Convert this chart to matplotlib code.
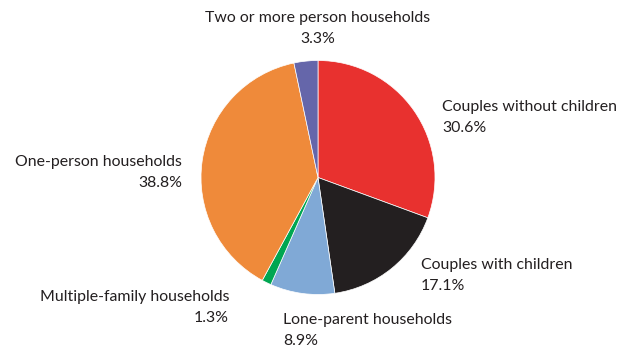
import matplotlib.pyplot as plt

categories = [
    "Couples without children",
    "Couples with children",
    "Lone-parent households",
    "Multiple-family households",
    "One-person households",
    "Two or more person households",
]
shares = [30.6, 17.1, 8.9, 1.3, 38.8, 3.3]
colors = ["#E8312F", "#231F20", "#80A9D6", "#00A651", "#EF8A3A", "#6566AA"]

W, H = 629, 347
fig = plt.figure(figsize=(W / 100, H / 100), dpi=100)
ax = fig.add_axes([0, 0, 1, 1])

cx, cy, r = 318, H - 177.5, 117
ax.pie(
    shares,
    colors=colors,
    startangle=90,
    counterclock=False,
    center=(cx, cy),
    radius=r,
    frame=True,
    wedgeprops=dict(edgecolor="white", linewidth=0.5),
)
ax.set_xlim(0, W)
ax.set_ylim(0, H)
ax.set_aspect("equal")
ax.axis("off")

# label anchors in pixel coordinates (x, y from top, alignment)
label_pos = [
    (442, 107, "left"),
    (421, 265, "left"),
    (283, 320, "left"),
    (229, 297, "right"),
    (182, 162, "right"),
    (318, 18, "center"),
]
font = dict(family="Lato", fontsize=11.4, color="#231F20")
for name, val, (x, y, ha) in zip(categories, shares, label_pos):
    ax.text(x, H - y, name, ha=ha, va="center", **font)
    ax.text(x, H - y - 21, f"{val:.1f}%", ha=ha, va="center", **font)

fig.savefig("out.png", dpi=100, facecolor="white")
